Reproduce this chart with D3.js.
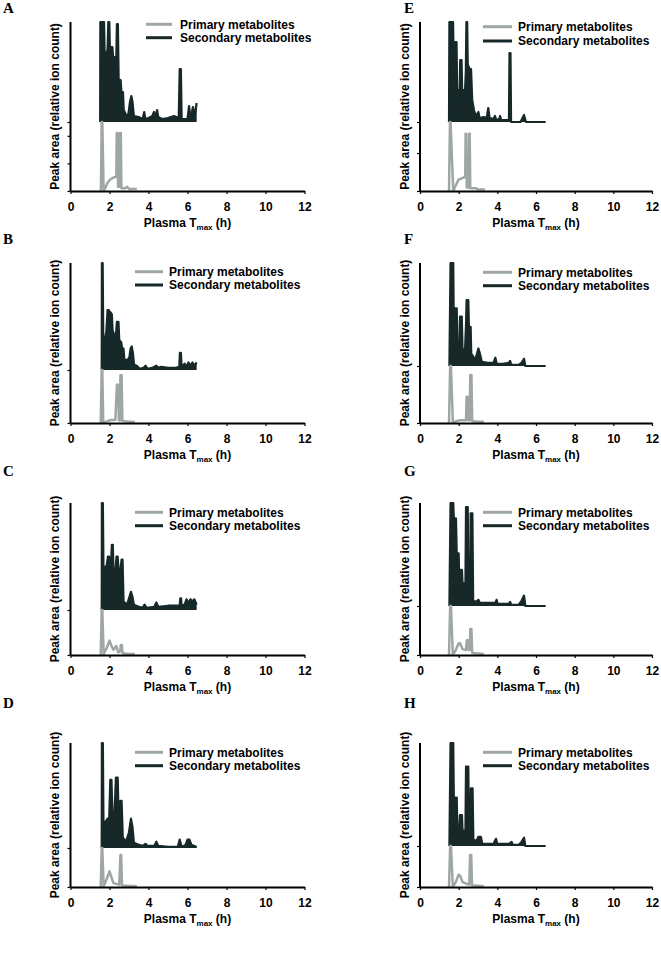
<!DOCTYPE html>
<html><head><meta charset="utf-8">
<script src="https://cdn.jsdelivr.net/npm/d3@7"></script>
<style>body{margin:0;background:#fff} svg{display:block}</style>
</head><body>
<svg id="c" width="661" height="956"></svg>
<script>
// ---------- data ----------
const xTicks = [0, 2, 4, 6, 8, 10, 12];
const panelLabels = ["A", "B", "C", "D", "E", "F", "G", "H"];
const seriesNames = ["Primary metabolites", "Secondary metabolites"];
const xTitle = "Plasma T", xTitleSub = "max", xTitleEnd = " (h)";
const yTitle = "Peak area (relative ion count)";

const primA = [[1.52,0],[1.56,0.02],[1.6,1.0],[1.63,1.0],[1.7,0.0],[1.78,0.04],[1.9,0.12],[2.05,0.17],[2.25,0.2],[2.35,0.21],[2.37,0.84],[2.41,0.84],[2.44,0.06],[2.52,0.06],[2.54,0.84],[2.58,0.84],[2.61,0.04],[2.8,0.04],[2.9,0.06],[3.0,0.03],[3.4,0.03]];
const secA = [[1.52,0],[1.53,1.0],[1.58,1.0],[1.6,0.78],[1.64,1.0],[1.72,1.0],[1.75,0.7],[1.84,0.69],[1.9,0.72],[1.94,1.0],[1.99,1.0],[2.02,0.75],[2.15,0.75],[2.2,0.6],[2.27,0.65],[2.34,0.55],[2.38,0.98],[2.43,0.98],[2.47,0.42],[2.57,0.42],[2.61,0.3],[2.69,0.3],[2.73,0.12],[2.85,0.07],[2.97,0.08],[3.05,0.2],[3.12,0.26],[3.18,0.2],[3.25,0.06],[3.5,0.05],[3.7,0.03],[3.78,0.1],[3.84,0.03],[4.0,0.04],[4.2,0.06],[4.28,0.1],[4.34,0.04],[4.44,0.12],[4.5,0.05],[4.7,0.03],[5.0,0.04],[5.3,0.06],[5.55,0.04],[5.6,0.53],[5.66,0.53],[5.7,0.03],[6.0,0.03],[6.08,0.16],[6.16,0.03],[6.28,0.15],[6.36,0.04],[6.47,0.19]];

const primB = [[1.55,0],[1.6,1.0],[1.63,1.0],[1.68,0],[1.8,0.02],[2.0,0.05],[2.3,0.06],[2.38,0.72],[2.44,0.72],[2.48,0.05],[2.54,0.05],[2.56,0.9],[2.62,0.9],[2.66,0.04],[2.9,0.03],[3.3,0.02]];
const secB = [[1.6,0],[1.61,1.0],[1.65,1.0],[1.68,0.3],[1.76,0.28],[1.84,0.36],[1.9,0.56],[1.97,0.56],[2.01,0.45],[2.05,0.54],[2.12,0.52],[2.16,0.37],[2.24,0.33],[2.32,0.3],[2.38,0.45],[2.46,0.45],[2.5,0.28],[2.6,0.26],[2.65,0.2],[2.72,0.2],[2.76,0.1],[2.92,0.09],[3.02,0.12],[3.08,0.2],[3.14,0.22],[3.2,0.16],[3.26,0.05],[3.4,0.04],[3.55,0.01],[3.75,0.02],[3.85,0.04],[3.95,0.01],[4.2,0.02],[4.4,0.04],[4.5,0.02],[4.65,0.03],[5.0,0.02],[5.4,0.02],[5.58,0.03],[5.61,0.16],[5.66,0.16],[5.7,0.02],[5.85,0.06],[5.95,0.03],[6.05,0.07],[6.15,0.04],[6.25,0.07],[6.35,0.04],[6.47,0.07]];

const primC = [[1.55,0],[1.6,1.0],[1.63,1.0],[1.7,0.02],[1.85,0.15],[2.0,0.32],[2.1,0.2],[2.2,0.12],[2.35,0.2],[2.45,0.06],[2.55,0.08],[2.58,0.22],[2.63,0.22],[2.67,0.04],[2.9,0.03],[3.3,0.02]];
const secC = [[1.6,0],[1.61,1.0],[1.66,1.0],[1.69,0.4],[1.78,0.4],[1.86,0.42],[1.92,0.5],[1.98,0.5],[2.02,0.4],[2.08,0.42],[2.12,0.61],[2.17,0.61],[2.2,0.38],[2.3,0.36],[2.36,0.5],[2.42,0.5],[2.46,0.38],[2.55,0.36],[2.62,0.47],[2.67,0.47],[2.72,0.08],[2.9,0.05],[3.02,0.12],[3.1,0.17],[3.18,0.12],[3.25,0.05],[3.5,0.03],[3.7,0.02],[3.8,0.05],[3.9,0.02],[4.3,0.03],[4.4,0.07],[4.5,0.03],[5.0,0.04],[5.5,0.04],[5.6,0.04],[5.63,0.11],[5.67,0.11],[5.7,0.04],[5.85,0.05],[5.95,0.1],[6.05,0.06],[6.15,0.1],[6.25,0.08],[6.35,0.1],[6.47,0.05]];

const primD = [[1.55,0],[1.6,1.0],[1.63,1.0],[1.7,0.02],[1.85,0.2],[2.0,0.4],[2.1,0.25],[2.2,0.1],[2.35,0.08],[2.5,0.06],[2.56,0.82],[2.6,0.82],[2.64,0.04],[2.9,0.03],[3.4,0.02]];
const secD = [[1.6,0],[1.61,1.0],[1.66,1.0],[1.69,0.25],[1.8,0.25],[1.9,0.28],[1.98,0.25],[2.04,0.65],[2.1,0.65],[2.15,0.33],[2.25,0.3],[2.33,0.67],[2.42,0.67],[2.46,0.35],[2.52,0.15],[2.56,0.45],[2.62,0.45],[2.68,0.1],[2.85,0.06],[3.0,0.15],[3.1,0.28],[3.18,0.2],[3.25,0.05],[3.5,0.03],[3.7,0.02],[3.85,0.04],[3.95,0.02],[4.3,0.02],[4.4,0.06],[4.5,0.02],[5.0,0.01],[5.5,0.01],[5.6,0.08],[5.7,0.01],[5.9,0.03],[6.0,0.08],[6.1,0.08],[6.2,0.03],[6.47,0.01]];

const primE = [[1.5,0],[1.55,1.0],[1.58,1.0],[1.72,0],[1.8,0.05],[1.98,0.16],[2.3,0.2],[2.34,0.2],[2.36,0.83],[2.39,0.83],[2.42,0.05],[2.52,0.05],[2.54,0.83],[2.57,0.83],[2.6,0.04],[2.9,0.04],[3.0,0.02],[3.36,0.02]];
const secE = [[1.5,0],[1.52,1.0],[1.58,1.0],[1.6,0.75],[1.63,1.0],[1.71,1.0],[1.74,0.6],[1.8,0.62],[1.83,0.8],[1.89,0.8],[1.92,0.32],[2.05,0.32],[2.08,0.62],[2.15,0.62],[2.18,0.32],[2.33,0.32],[2.37,0.5],[2.4,1.0],[2.44,1.0],[2.47,0.58],[2.52,0.55],[2.58,0.53],[2.64,0.53],[2.7,0.22],[2.79,0.12],[2.88,0.06],[2.95,0.08],[3.02,0.1],[3.08,0.04],[3.3,0.05],[3.45,0.04],[3.53,0.14],[3.6,0.04],[3.8,0.03],[3.88,0.06],[3.95,0.02],[4.1,0.03],[4.14,0.06],[4.2,0.02],[4.6,0.02],[4.63,0.69],[4.68,0.69],[4.71,0],[5.2,0],[5.38,0.07],[5.48,0],[6.5,0]];

const primF = [[1.5,0],[1.56,1.0],[1.6,1.0],[1.7,0],[1.85,0.03],[2.1,0.05],[2.38,0.05],[2.41,0.46],[2.47,0.46],[2.5,0.05],[2.57,0.05],[2.6,0.84],[2.66,0.84],[2.7,0.03],[3.0,0.02],[3.3,0.02]];
const secF = [[1.52,0],[1.58,1.0],[1.72,1.0],[1.74,0.56],[1.9,0.56],[1.93,0.22],[2.04,0.22],[2.07,0.48],[2.16,0.48],[2.2,0.16],[2.33,0.16],[2.38,0.4],[2.41,0.64],[2.5,0.64],[2.53,0.38],[2.62,0.38],[2.65,0.12],[2.76,0.09],[2.86,0.06],[2.95,0.12],[3.02,0.17],[3.1,0.12],[3.2,0.04],[3.5,0.03],[3.8,0.03],[3.9,0.08],[3.97,0.02],[4.3,0.02],[4.6,0.03],[4.66,0.05],[4.72,0.01],[5.1,0.01],[5.25,0.03],[5.38,0.07],[5.45,0],[6.5,0]];

const primG = [[1.5,0],[1.56,1.0],[1.6,1.0],[1.7,0],[1.85,0.1],[2.0,0.24],[2.07,0.24],[2.2,0.12],[2.38,0.1],[2.42,0.3],[2.48,0.3],[2.52,0.1],[2.58,0.1],[2.6,0.53],[2.66,0.53],[2.7,0.04],[3.0,0.03],[3.3,0.02]];
const secG = [[1.52,0],[1.58,1.0],[1.72,1.0],[1.75,0.85],[1.86,0.85],[1.9,0.51],[2.0,0.51],[2.03,0.22],[2.07,0.35],[2.17,0.35],[2.2,0.22],[2.35,0.22],[2.38,0.96],[2.47,0.96],[2.5,0.28],[2.6,0.28],[2.62,0.9],[2.71,0.9],[2.75,0.05],[2.9,0.04],[3.02,0.06],[3.1,0.03],[3.5,0.03],[3.9,0.03],[3.96,0.06],[4.02,0.02],[4.6,0.02],[4.66,0.04],[4.72,0.01],[5.1,0.01],[5.25,0.05],[5.38,0.1],[5.45,0],[6.5,0]];

const primH = [[1.5,0],[1.56,1.0],[1.6,1.0],[1.7,0],[1.85,0.12],[2.0,0.3],[2.07,0.28],[2.2,0.12],[2.4,0.08],[2.55,0.06],[2.59,0.78],[2.65,0.78],[2.69,0.04],[3.0,0.03],[3.3,0.02]];
const secH = [[1.52,0],[1.58,1.0],[1.72,1.0],[1.75,0.47],[1.9,0.47],[1.93,0.19],[2.04,0.19],[2.07,0.3],[2.17,0.3],[2.2,0.15],[2.35,0.15],[2.38,0.77],[2.5,0.77],[2.53,0.1],[2.6,0.1],[2.63,0.56],[2.72,0.56],[2.76,0.06],[2.92,0.05],[3.02,0.09],[3.15,0.09],[3.22,0.02],[3.8,0.02],[3.93,0.07],[4.0,0.02],[4.6,0.02],[4.74,0.04],[4.8,0.01],[5.1,0.01],[5.25,0.04],[5.38,0.08],[5.45,0],[6.5,0]];

const primaryData = [primA, primB, primC, primD, primE, primF, primG, primH];
const secondaryData = [secA, secB, secC, secD, secE, secF, secG, secH];
const yTickSets = [[0,0.4,0.8,1],[0,1],[0,1],[0,1],[0,0.55,1],[0,1],[0,1],[0,1]];

// ---------- layout ----------
const cols = [{x0:70.5, x1:304.5, letterX:3, legX0:[146,135,135,135], legX1:[172,163,163,163], legTX:[180,169,169,169]},
              {x0:420, x1:652, letterX:404, legX0:[483,483,483,483], legX1:[512,512,512,512], legTX:[518,518,518,518]}];
const rows = [
  {top:22, base:[122,122], bottom:191, letterY:13, legY:[[24.3,37.7],[26.7,41]]},
  {top:263, base:[370,366], bottom:423, letterY:244, legY:[[271.7,285],[272.3,285.7]]},
  {top:503, base:[610,606], bottom:655, letterY:476, legY:[[512.3,525.7],[512.3,525.7]]},
  {top:743, base:[848,846], bottom:887, letterY:708, legY:[[752.3,765.7],[752.3,765.7]]}
];
const colPrim = "#9ea7a5", colSec = "#172828";
const font = "Arial, 'Liberation Sans', sans-serif";

const svg = d3.select("#c");

panelLabels.forEach((lab, i) => {
  const ci = Math.floor(i / 4), ri = i % 4;
  const C = cols[ci], R = rows[ri];
  const base = R.base[ci];
  const g = svg.append("g");

  const x = d3.scaleLinear().domain([0, 12]).range([C.x0, C.x1]);
  const yP = d3.scaleLinear().domain([0, 1]).range([R.bottom, base]);
  const yS = d3.scaleLinear().domain([0, 1]).range([base, R.top]);

  // secondary (filled spikes)
  const area = d3.area().x(d => x(d[0])).y0(base).y1(d => yS(d[1])).curve(d3.curveLinear);
  const line2 = d3.line().x(d => x(d[0])).y(d => yS(d[1]));
  g.append("path").attr("d", area(secondaryData[i])).attr("fill", colSec);
  g.append("path").attr("d", line2(secondaryData[i])).attr("fill", "none")
    .attr("stroke", colSec).attr("stroke-width", 2.2).attr("stroke-linejoin", "round");

  // primary
  const line1 = d3.line().x(d => x(d[0])).y(d => yP(d[1]));
  g.append("path").attr("d", line1(primaryData[i])).attr("fill", "none")
    .attr("stroke", colPrim).attr("stroke-width", 2.5).attr("stroke-linejoin", "round");

  // y axis
  const ya = g.append("g").attr("transform", `translate(${C.x0},0)`)
    .call(d3.axisLeft(yP).tickValues(yTickSets[i]).tickSize(3).tickFormat(""));
  ya.select(".domain").remove();
  ya.selectAll(".tick line").attr("stroke", "#000").attr("stroke-width", 1.2);
  g.append("line").attr("x1", C.x0).attr("x2", C.x0).attr("y1", R.top).attr("y2", R.bottom)
    .attr("stroke", "#000").attr("stroke-width", 2);

  // x axis
  const xa = g.append("g").attr("transform", `translate(0,${R.bottom})`)
    .call(d3.axisBottom(x).tickValues(xTicks).tickSize(3).tickSizeOuter(0).tickPadding(8).tickFormat(d3.format("d")));
  xa.select(".domain").attr("stroke", "#000").attr("stroke-width", 2);
  xa.selectAll(".tick line").attr("stroke", "#000").attr("stroke-width", 1.2);
  xa.selectAll(".tick text").attr("font-family", font).attr("font-weight", "bold")
    .attr("font-size", 12).attr("fill", "#000");

  // x title
  const xt = g.append("text").attr("x", (C.x0 + C.x1) / 2).attr("y", R.bottom + 36)
    .attr("text-anchor", "middle").attr("font-family", font).attr("font-weight", "bold")
    .attr("font-size", 12).attr("fill", "#000");
  xt.append("tspan").text(xTitle);
  xt.append("tspan").text(xTitleSub).attr("font-size", 8).attr("dy", 3);
  xt.append("tspan").text(xTitleEnd).attr("dy", -3);

  // y title
  g.append("text").attr("transform", `translate(${C.x0 - 11.5},${(R.top + R.bottom) / 2}) rotate(-90)`)
    .attr("text-anchor", "middle").attr("font-family", font).attr("font-weight", "bold")
    .attr("font-size", 12).attr("fill", "#000").text(yTitle);

  // panel letter
  g.append("text").attr("x", C.letterX).attr("y", R.letterY)
    .attr("font-family", "'Liberation Serif', 'Times New Roman', serif").attr("font-weight", "bold")
    .attr("font-size", 15).attr("fill", "#000").text(lab);

  // legend
  const ly = R.legY[ci];
  [colPrim, colSec].forEach((c, k) => {
    g.append("line").attr("x1", C.legX0[ri]).attr("x2", C.legX1[ri]).attr("y1", ly[k]).attr("y2", ly[k])
      .attr("stroke", c).attr("stroke-width", 3);
    g.append("text").attr("x", C.legTX[ri]).attr("y", ly[k]).attr("dy", "0.36em")
      .attr("font-family", font).attr("font-weight", "bold").attr("font-size", 12)
      .attr("fill", "#000").text(seriesNames[k]);
  });
});
</script>
</body></html>
